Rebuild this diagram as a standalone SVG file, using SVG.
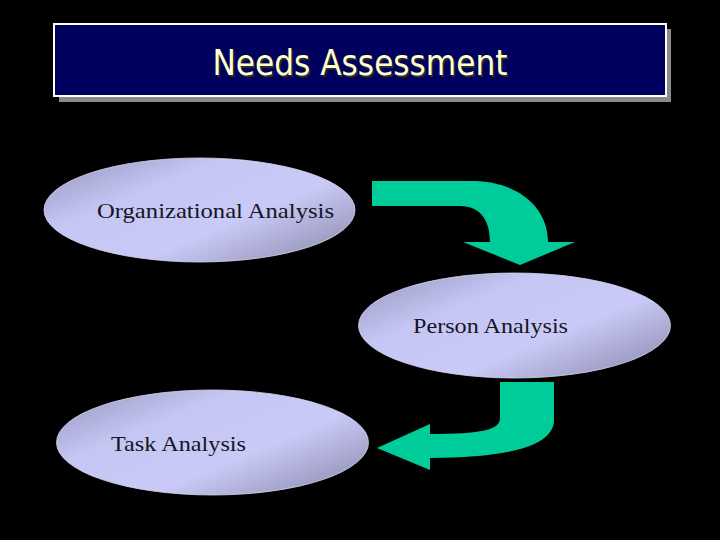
<svg xmlns="http://www.w3.org/2000/svg" width="720" height="540" viewBox="0 0 720 540">
  <style>
    .node-shape { fill: url(#lav); stroke: #d8d8ee; stroke-width: 0.8; }
    .node-label { font-family: "Liberation Serif", "Times New Roman", serif; font-size: 22px; fill: #15151f; }
    .arrow { fill: #00cc99; }
    .title-text { font-family: "DejaVu Sans", "Liberation Sans", sans-serif; font-size: 35px; }
  </style>
  <defs>
    <linearGradient id="lav" x1="0" y1="0.1" x2="1" y2="0.9">
      <stop offset="0" stop-color="#9a9ac6"/>
      <stop offset="0.3" stop-color="#c6c6f4"/>
      <stop offset="0.62" stop-color="#cacaf8"/>
      <stop offset="1" stop-color="#8c8cb0"/>
    </linearGradient>
  </defs>
  <rect x="0" y="0" width="720" height="540" fill="#000000"/>

  <g id="title">
    <rect x="59" y="29" width="612" height="73" fill="#8a8a8a"/>
    <rect x="54" y="24" width="612" height="72" fill="#00005e" stroke="#ffffff" stroke-width="2"/>
    <text class="title-text" x="361.5" y="76.5" text-anchor="middle" textLength="295" lengthAdjust="spacingAndGlyphs" fill="#2a2a2a">Needs Assessment</text>
    <text class="title-text" x="360" y="75" text-anchor="middle" textLength="295" lengthAdjust="spacingAndGlyphs" fill="#ffffcc">Needs Assessment</text>
  </g>

  <g id="node-org">
    <ellipse class="node-shape" cx="199.5" cy="210" rx="155.5" ry="52"/>
    <text class="node-label" x="97" y="218" textLength="237" lengthAdjust="spacingAndGlyphs">Organizational Analysis</text>
  </g>

  <g id="node-person">
    <ellipse class="node-shape" cx="514.5" cy="325.5" rx="156" ry="52.5"/>
    <text class="node-label" x="413" y="333" textLength="155" lengthAdjust="spacingAndGlyphs">Person Analysis</text>
  </g>

  <g id="node-task">
    <ellipse class="node-shape" cx="212.5" cy="442.5" rx="156" ry="52.5"/>
    <text class="node-label" x="111" y="451" textLength="135" lengthAdjust="spacingAndGlyphs">Task Analysis</text>
  </g>

  <g id="connectors">
    <path class="arrow" d="M372,181 L472,181 C515,181 548,205 548,242 L575,242 L520,265 L463,242 L490,242 C490,220 480,206 460,206 L372,206 Z"/>
    <path class="arrow" d="M500,382 L554,382 L554,420 C554,447 505,458 430,458 L430,470 L377,448 L430,424 L430,434 C482,434 500,430 500,418 Z"/>
  </g>
</svg>
